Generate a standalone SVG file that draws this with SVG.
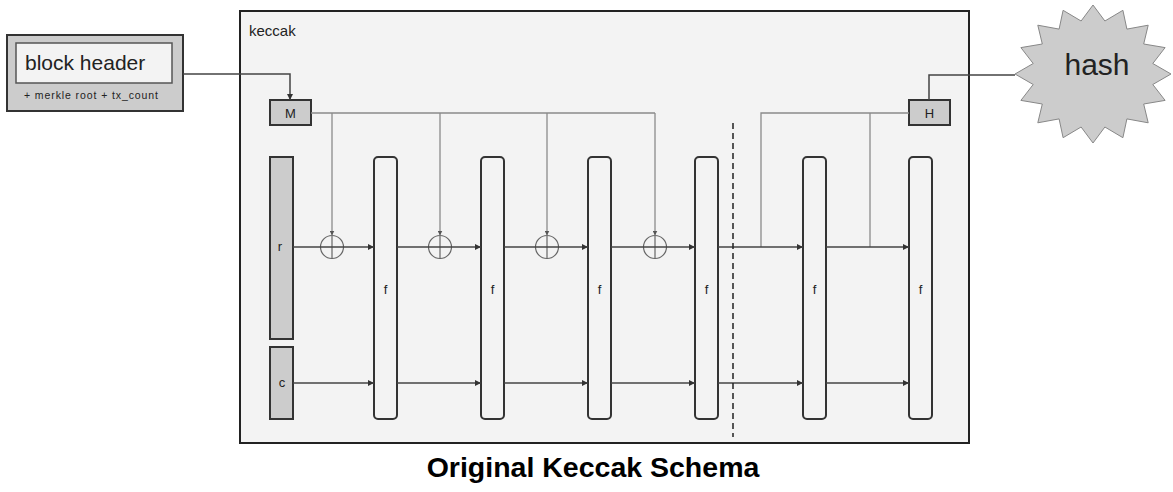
<svg xmlns="http://www.w3.org/2000/svg" width="1173" height="492" viewBox="0 0 1173 492">
<style>
  text { font-family: "Liberation Sans", Arial, sans-serif; fill: #222; }
  .box { fill: #cccccc; stroke: #333; stroke-width: 2; }
  .f { fill: #f3f3f3; stroke: #333; stroke-width: 2; }
  .dark { fill: none; stroke: #444; stroke-width: 1.5; }
  .gray { fill: none; stroke: #8a8a8a; stroke-width: 1.3; }
  .xor { fill: none; stroke: #666; stroke-width: 1.2; }
  .lbl { font-size: 13px; text-anchor: middle; }
</style>
<defs>
  <marker id="arr" viewBox="0 0 6 6" refX="6" refY="3" markerWidth="6" markerHeight="6" markerUnits="userSpaceOnUse" orient="auto">
    <path d="M0,0 L6,3 L0,6 z" fill="#333"/>
  </marker>
  <marker id="arrs" viewBox="0 0 6 6" refX="6" refY="3" markerWidth="5" markerHeight="5" markerUnits="userSpaceOnUse" orient="auto">
    <path d="M0,0 L6,3 L0,6 z" fill="#555"/>
  </marker>
</defs>
<rect width="1173" height="492" fill="#ffffff"/>

<g id="keccak">
  <rect x="240" y="11" width="729" height="432" fill="#f3f3f3" stroke="#222" stroke-width="2"/>
  <text x="249" y="36" font-size="15">keccak</text>
</g>

<g id="block-header">
  <rect x="7" y="35" width="176" height="76" class="box"/>
  <rect x="16" y="43" width="156" height="40" fill="#f3f3f3" stroke="#555" stroke-width="1.5"/>
  <text x="25" y="70" font-size="21">block header</text>
  <text x="24" y="99" font-size="10.5" textLength="134" lengthAdjust="spacing" fill="#555">+ merkle root + tx_count</text>
</g>

<g id="hash">
  <polygon points="1171,74 1152.8,63.5 1165.1,47.6 1143.7,44 1148.2,25.2 1126.9,29.1 1122.9,10.3 1104.9,21 1093,5 1081.1,21 1063.1,10.3 1059.1,29.1 1037.8,25.2 1042.3,44 1020.9,47.6 1033.2,63.5 1015,74 1033.2,84.5 1020.9,100.4 1042.3,104 1037.8,122.8 1059.1,118.9 1063.1,137.7 1081.1,127 1093,143 1104.9,127 1122.9,137.7 1126.9,118.9 1148.2,122.8 1143.7,104 1165.1,100.4 1152.8,84.5" fill="#cccccc" stroke="#888" stroke-width="1"/>
  <text x="1097" y="75" font-size="30" text-anchor="middle">hash</text>
</g>

<g id="M"><rect x="270" y="100" width="41" height="25" class="box"/><text x="290.5" y="118" class="lbl" font-size="14">M</text></g>
<g id="H"><rect x="909" y="100" width="41" height="25" class="box"/><text x="929.5" y="118" class="lbl" font-size="14">H</text></g>
<g id="r"><rect x="270" y="157" width="23" height="182" class="box"/><text x="280" y="251" class="lbl" font-size="12">r</text></g>
<g id="c"><rect x="270" y="347" width="23" height="72" class="box"/><text x="282" y="387" class="lbl" font-size="12">c</text></g>

<g id="f1"><rect x="374" y="157" width="23" height="262" rx="4" class="f"/><text x="385.5" y="294" class="lbl">f</text></g>
<g id="f2"><rect x="481" y="157" width="23" height="262" rx="4" class="f"/><text x="492.5" y="294" class="lbl">f</text></g>
<g id="f3"><rect x="588" y="157" width="23" height="262" rx="4" class="f"/><text x="599.5" y="294" class="lbl">f</text></g>
<g id="f4"><rect x="695" y="157" width="23" height="262" rx="4" class="f"/><text x="706.5" y="294" class="lbl">f</text></g>
<g id="f5"><rect x="803" y="157" width="23" height="262" rx="4" class="f"/><text x="814.5" y="294" class="lbl">f</text></g>
<g id="f6"><rect x="909" y="157" width="23" height="262" rx="4" class="f"/><text x="920.5" y="294" class="lbl">f</text></g>

<g id="xors">
  <g class="xor"><circle cx="332" cy="247" r="11.5"/><line x1="332" y1="235.5" x2="332" y2="258.5"/></g>
  <g class="xor"><circle cx="440" cy="247" r="11.5"/><line x1="440" y1="235.5" x2="440" y2="258.5"/></g>
  <g class="xor"><circle cx="547" cy="247" r="11.5"/><line x1="547" y1="235.5" x2="547" y2="258.5"/></g>
  <g class="xor"><circle cx="655" cy="247" r="11.5"/><line x1="655" y1="235.5" x2="655" y2="258.5"/></g>
</g>

<g id="connectors">
  <polyline points="183,74 290,74 290,100" class="dark" marker-end="url(#arr)"/>
  <polyline points="929,100 929,75 1015,75" class="dark"/>
  <line x1="311" y1="113" x2="655" y2="113" class="gray"/>
  <line x1="332" y1="113" x2="332" y2="235.5" class="gray" marker-end="url(#arrs)"/>
  <line x1="440" y1="113" x2="440" y2="235.5" class="gray" marker-end="url(#arrs)"/>
  <line x1="547" y1="113" x2="547" y2="235.5" class="gray" marker-end="url(#arrs)"/>
  <line x1="655" y1="113" x2="655" y2="235.5" class="gray" marker-end="url(#arrs)"/>
  <polyline points="761,247 761,113 909,113" class="gray"/>
  <line x1="870" y1="113" x2="870" y2="247" class="gray"/>
  <line x1="293" y1="247" x2="374" y2="247" class="dark" marker-end="url(#arr)"/>
  <line x1="397" y1="247" x2="481" y2="247" class="dark" marker-end="url(#arr)"/>
  <line x1="504" y1="247" x2="588" y2="247" class="dark" marker-end="url(#arr)"/>
  <line x1="611" y1="247" x2="695" y2="247" class="dark" marker-end="url(#arr)"/>
  <line x1="718" y1="247" x2="803" y2="247" class="dark" marker-end="url(#arr)"/>
  <line x1="826" y1="247" x2="909" y2="247" class="dark" marker-end="url(#arr)"/>
  <line x1="293" y1="383" x2="374" y2="383" class="dark" marker-end="url(#arr)"/>
  <line x1="397" y1="383" x2="481" y2="383" class="dark" marker-end="url(#arr)"/>
  <line x1="504" y1="383" x2="588" y2="383" class="dark" marker-end="url(#arr)"/>
  <line x1="611" y1="383" x2="695" y2="383" class="dark" marker-end="url(#arr)"/>
  <line x1="718" y1="383" x2="803" y2="383" class="dark" marker-end="url(#arr)"/>
  <line x1="826" y1="383" x2="909" y2="383" class="dark" marker-end="url(#arr)"/>
  <line x1="733" y1="123" x2="733" y2="437" stroke="#222" stroke-width="1.5" stroke-dasharray="6,4"/>
</g>

<text x="593" y="477" font-size="28.5" font-weight="bold" text-anchor="middle" style="fill:#000">Original Keccak Schema</text>
</svg>
